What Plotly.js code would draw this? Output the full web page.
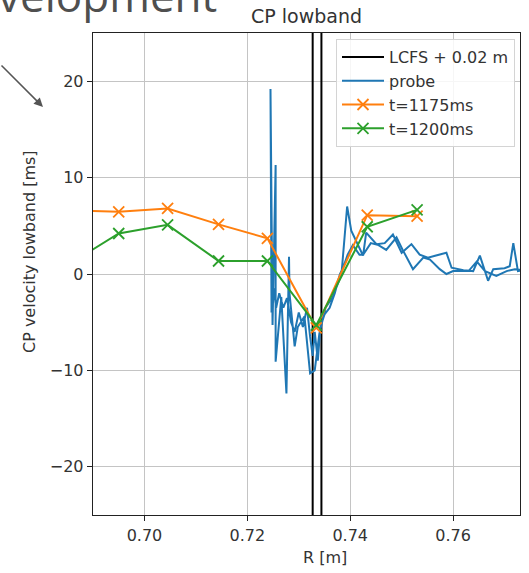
<!DOCTYPE html>
<html>
<head>
<meta charset="utf-8">
<script src="https://cdn.plot.ly/plotly-3.0.1.min.js"></script>
<style>
  html, body { margin: 0; padding: 0; background: #ffffff; }
  #chart { width: 529px; height: 573px; }
</style>
</head>
<body>
<div id="chart"></div>
<script>
// ---- data ----
const R_LCFS = [0.7327, 0.7344];
const Y_RANGE = [-25, 25];
const X_RANGE = [0.690, 0.773];
const X_TICKS = [0.70, 0.72, 0.74, 0.76];
const Y_TICKS = [-20, -10, 0, 10, 20];

const R_FIT = [0.6853, 0.6950, 0.7045, 0.7144, 0.7239, 0.7334, 0.7433, 0.7530];
const V_1175 = [6.6, 6.45, 6.8, 5.15, 3.7, -5.6, 6.1, 6.0];
const V_1200 = [1.0, 4.2, 5.1, 1.35, 1.35, -5.3, 4.9, 6.65];

const R_PROBE = [
  0.7735, 0.7726, 0.7717, 0.7710, 0.7700, 0.7678, 0.7668, 0.7652, 0.7639, 0.7620,
  0.7597, 0.7587, 0.7565, 0.7551, 0.7535, 0.7519, 0.7500, 0.7483, 0.7467, 0.7451,
  0.7431, 0.7425, 0.7402, 0.7394, 0.7383, 0.7366, 0.7352, 0.7340, 0.7331, 0.7322,
  0.7311, 0.7298, 0.7292, 0.7282, 0.7281, 0.7276, 0.7266, 0.7255, 0.7255, 0.7249,
  0.7245,
  0.7247, 0.7251, 0.7256, 0.7262, 0.7270, 0.7277, 0.7285, 0.7292, 0.7300, 0.7308,
  0.7316, 0.7322, 0.7327, 0.7331, 0.7337, 0.7342, 0.7350, 0.7360, 0.7370, 0.7380,
  0.7386, 0.7395, 0.7405, 0.7418, 0.7425, 0.7440, 0.7455, 0.7470, 0.7490, 0.7502,
  0.7516, 0.7522, 0.7542, 0.7555, 0.7574, 0.7587, 0.7600, 0.7619, 0.7630, 0.7646,
  0.7662, 0.7684, 0.7704, 0.7720, 0.7735
];
const V_PROBE = [
  0.4, 0.3, 3.2, 0.8, 0.6, 0.5, -0.7, 1.9, 0.3, 0.4,
  0.65, 2.2, 1.9, 1.7, 2.0, 3.1, 2.2, 4.1, 3.2, 3.1,
  4.3, 1.9, 4.5, 7.0, 0.0, -2.4, -3.5, -6.2, -10.0, -10.3,
  -4.4, -5.5, -7.5, -2.0, 1.8, -12.4, -2.4, -9.1, 11.3, -5.3,
  19.2,
  -4.0, -1.5, -3.5, -2.0, -3.5, -2.5, -5.0, -6.0, -4.0, -5.5,
  -3.5, -6.5, -8.5, -6.0, -9.0, -5.5, -4.2, -3.5, -2.0, 0.0,
  0.65, 2.0, 3.0, 2.0, 2.0, 3.2, 3.0, 2.5, 3.8, 2.5,
  1.0, 0.5, 1.7, 1.5, 0.5, 0.0, 0.3, 0.3, 0.3, 1.3,
  0.3, -0.2, 0.3, 0.5, 0.4
];

const TITLE = "CP lowband";
const X_LABEL = "R [m]";
const Y_LABEL = "CP velocity lowband [ms]";
const SLIDE_TEXT = "velopment";

// ---- build traces ----
const lcfsX = [], lcfsY = [];
R_LCFS.forEach((r, i) => {
  if (i > 0) { lcfsX.push(null); lcfsY.push(null); }
  lcfsX.push(r, r); lcfsY.push(Y_RANGE[0], Y_RANGE[1]);
});

const FONT = "DejaVu Sans, sans-serif";
const TXT = "#333333";

const traces = [
  { x: lcfsX, y: lcfsY, mode: "lines", name: "LCFS + 0.02 m",
    line: { color: "#000000", width: 2 } },
  { x: R_PROBE, y: V_PROBE, mode: "lines", name: "probe",
    line: { color: "#1f77b4", width: 2 } },
  { x: R_FIT, y: V_1175, mode: "lines+markers", name: "t=1175ms",
    line: { color: "#ff7f0e", width: 2 },
    marker: { symbol: "x-thin", size: 11, color: "#ff7f0e", line: { color: "#ff7f0e", width: 1.8 } } },
  { x: R_FIT, y: V_1200, mode: "lines+markers", name: "t=1200ms",
    line: { color: "#2ca02c", width: 2 },
    marker: { symbol: "x-thin", size: 11, color: "#2ca02c", line: { color: "#2ca02c", width: 1.8 } } }
];

const W = 529, H = 573;
const M = { l: 93, r: 9, t: 33, b: 58 };
const PW = W - M.l - M.r, PH = H - M.t - M.b;
const px2x = px => (px - M.l) / PW;
const py2y = py => (H - M.b - py) / PH;

const layout = {
  width: W, height: H,
  margin: M,
  paper_bgcolor: "#ffffff",
  plot_bgcolor: "#ffffff",
  font: { family: FONT, size: 16, color: TXT },
  showlegend: true,
  title: { text: TITLE, x: 0.5, xref: "paper", xanchor: "center",
           y: 1 - 16 / H, yref: "container", yanchor: "middle",
           font: { family: FONT, size: 19, color: TXT } },
  xaxis: {
    range: X_RANGE, tickvals: X_TICKS, ticktext: X_TICKS.map(v => v.toFixed(2)),
    showgrid: true, gridcolor: "#c4c4c4", gridwidth: 1,
    zeroline: false, showline: true, mirror: true, linecolor: "#222222", linewidth: 1.3,
    ticks: "outside", ticklen: 5, tickwidth: 1, tickcolor: "#222222",
    tickfont: { family: FONT, size: 16, color: TXT }
  },
  yaxis: {
    range: Y_RANGE, tickvals: Y_TICKS,
    showgrid: true, gridcolor: "#c4c4c4", gridwidth: 1,
    zeroline: false, showline: true, mirror: true, linecolor: "#222222", linewidth: 1.3,
    ticks: "outside", ticklen: 5, tickwidth: 1, tickcolor: "#222222",
    tickfont: { family: FONT, size: 16, color: TXT }
  },
  legend: {
    x: px2x(515), y: py2y(39), xanchor: "right", yanchor: "top",
    itemwidth: 42,
    bgcolor: "rgba(255,255,255,0.85)", bordercolor: "#d4d4d4", borderwidth: 1,
    font: { family: FONT, size: 16, color: TXT }
  },
  annotations: [
    { text: X_LABEL, xref: "paper", yref: "paper", x: px2x(325), y: py2y(557),
      xanchor: "center", yanchor: "middle", showarrow: false,
      font: { family: FONT, size: 16, color: TXT } },
    { text: Y_LABEL, xref: "paper", yref: "paper", x: px2x(29), y: py2y(252),
      xanchor: "center", yanchor: "middle", textangle: -90, showarrow: false,
      font: { family: FONT, size: 16, color: TXT } },
    { text: SLIDE_TEXT, xref: "paper", yref: "paper", x: px2x(-4), y: py2y(-5),
      xanchor: "left", yanchor: "middle", showarrow: false,
      font: { family: "Open Sans, sans-serif", size: 44, color: "#4f4f4f" } },
    { text: "", xref: "paper", yref: "paper", x: px2x(43), y: py2y(107),
      showarrow: true, ax: -46, ay: -43, arrowhead: 2, arrowsize: 1.2,
      arrowwidth: 1.5, arrowcolor: "#555555", standoff: 0 }
  ]
};

Plotly.newPlot("chart", traces, layout, { displayModeBar: false, staticPlot: true });
</script>
</body>
</html>
